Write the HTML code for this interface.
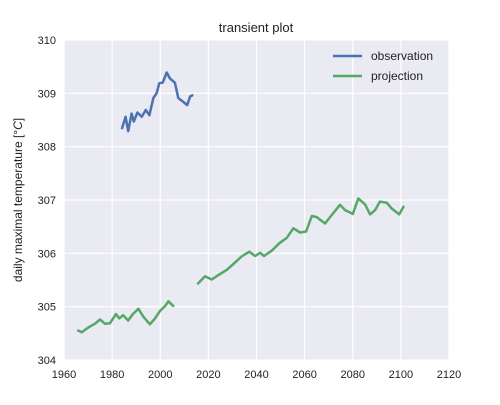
<!DOCTYPE html>
<html><head><meta charset="utf-8"><style>
body{margin:0;background:#fff;width:500px;height:400px;overflow:hidden}
text{font-family:"Liberation Sans",sans-serif;fill:#222}
</style></head><body>
<svg id="chart" width="500" height="400" viewBox="0 0 500 400">
<rect x="64" y="40" width="385" height="320" fill="#eaeaf2"/>
<g id="grid"></g><g id="ticks"></g><g id="series"></g>
<text x="256" y="32" font-size="13" text-anchor="middle">transient plot</text>
<text transform="translate(22,200) rotate(-90)" font-size="12" text-anchor="middle">daily maximal temperature [°<tspan font-style="italic">C</tspan>]</text>
<g>
<line x1="333" y1="56" x2="362" y2="56" stroke="#4c72b0" stroke-width="2.5"/>
<text x="371" y="60" font-size="12">observation</text>
<line x1="333" y1="76" x2="362" y2="76" stroke="#55a868" stroke-width="2.5"/>
<text x="371" y="80" font-size="12">projection</text>
</g>
</svg>
<script>
const xTicks=[1960,1980,2000,2020,2040,2060,2080,2100,2120];
const yTicks=[304,305,306,307,308,309,310];
const obsYears=[1984,1985.6,1986.7,1988.1,1989,1990.5,1992.3,1994,1995.5,1997.1,1998.5,1999.6,2001,2002.7,2004,2006.1,2007.5,2009.6,2011.2,2012.4,2013.7];
const obsValues=[308.33,308.56,308.29,308.62,308.47,308.64,308.56,308.69,308.59,308.91,309.0,309.19,309.2,309.39,309.28,309.2,308.91,308.84,308.78,308.94,308.97];
const projYears1=[1965.5,1967.4,1970.1,1972.9,1975,1977,1979.1,1981.6,1983,1984.6,1986.7,1988.6,1990.9,1993,1995.7,1997.8,1999.9,2002,2003.4,2005.7];
const projValues1=[304.56,304.52,304.61,304.68,304.76,304.68,304.69,304.86,304.78,304.84,304.74,304.86,304.96,304.81,304.67,304.78,304.92,305.01,305.1,305.0];
const projYears2=[2015.4,2018.6,2021.4,2024.1,2027.6,2030.4,2033.8,2037,2039.4,2041.5,2043.1,2046.3,2049.5,2052.6,2055.3,2058.1,2060.6,2063,2065,2068.5,2071.3,2074.7,2076.8,2080,2082.3,2085.1,2087.2,2089.3,2091.3,2094.1,2096.2,2099.3,2101.3];
const projValues2=[305.42,305.57,305.51,305.59,305.69,305.8,305.94,306.03,305.95,306.01,305.95,306.05,306.19,306.29,306.47,306.39,306.41,306.7,306.68,306.56,306.72,306.91,306.81,306.74,307.03,306.92,306.73,306.81,306.97,306.95,306.84,306.73,306.89];
const NS="http://www.w3.org/2000/svg";
const X=v=>64+(v-1960)*385/160;
const Y=v=>360-(v-304)*320/6;
function mk(tag,attrs,parent){const e=document.createElementNS(NS,tag);for(const k in attrs)e.setAttribute(k,attrs[k]);document.getElementById(parent).appendChild(e);return e;}
xTicks.forEach(t=>{
 const l=mk('line',{x1:X(t),x2:X(t),y1:40,y2:360,stroke:'#fff','stroke-width':1.2},'grid');
 
 
 const tx=mk('text',{x:X(t),y:378,'font-size':11,'text-anchor':'middle'},'ticks');tx.textContent=t;
 
 
});
yTicks.forEach(t=>{
 const l=mk('line',{x1:64,x2:449,y1:Y(t),y2:Y(t),stroke:'#fff','stroke-width':1.2},'grid');
 
 
 const tx=mk('text',{x:56,y:Y(t)+4,'font-size':11,'text-anchor':'end'},'ticks');tx.textContent=t;
 
 
});
function line(xs,ys,color,name){
 const d=xs.map((x,i)=>(i?'L':'M')+X(x).toFixed(1)+','+Y(ys[i]).toFixed(1)).join('');
 const p=mk('path',{d:d,fill:'none',stroke:color,'stroke-width':2.5,'stroke-linejoin':'round'},'series');
 
 
}
line(obsYears,obsValues,'#4c72b0','observation-line');
line(projYears1,projValues1,'#55a868','projection-line-historical');
line(projYears2,projValues2,'#55a868','projection-line-future');
</script>
</body></html>
